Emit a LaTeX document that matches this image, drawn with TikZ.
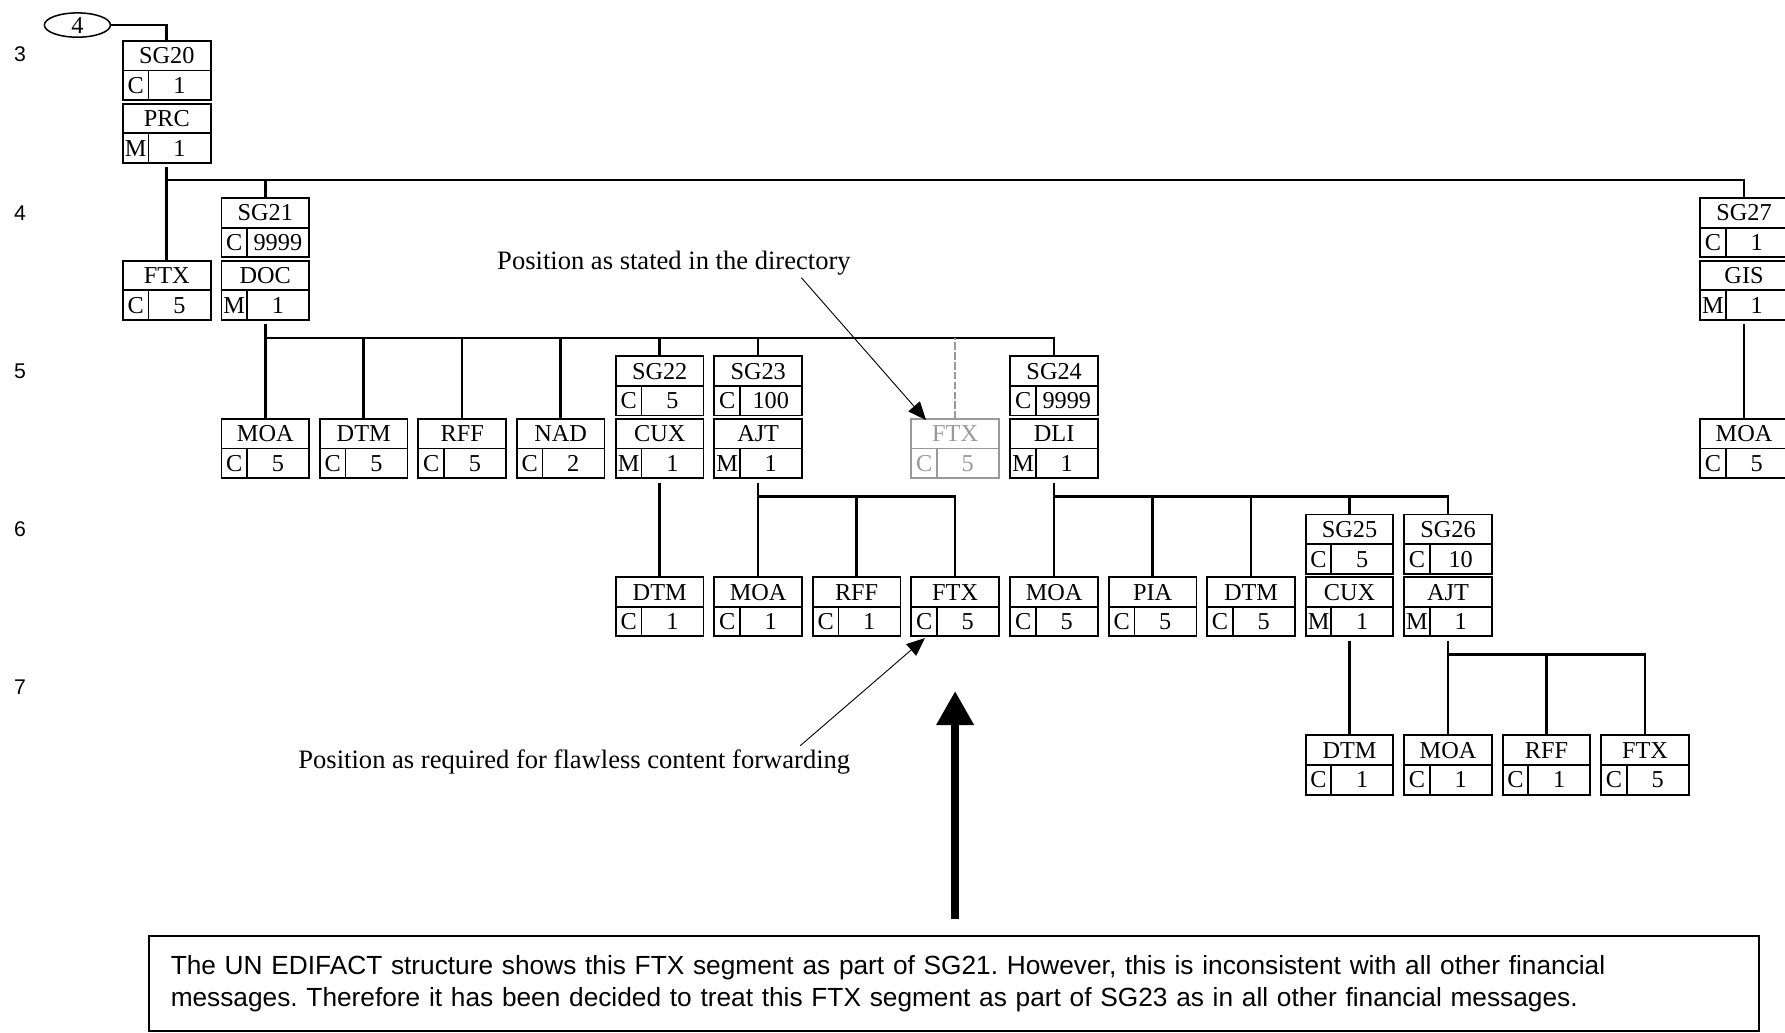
\documentclass[tikz,border=0pt]{standalone}
\usepackage{fontspec}
\setmainfont{Liberation Serif}
\setsansfont{Liberation Sans}
\usetikzlibrary{arrows.meta,calc,shapes.geometric}

\colorlet{ghost}{black!40}

\tikzset{every picture/.style={line width=0.75pt}}
\tikzset{
  segbox/.style={draw, line width=1.2pt, minimum width=57.75pt, minimum height=39pt, inner sep=0pt, outer sep=0pt},
  segtxt/.style={inner sep=0pt, text height=10.6pt, text depth=0pt, font=\fontsize{16}{16}\selectfont},
  bus/.style={line width=1.7pt},
  ghostbus/.style={line width=1.2pt, ghost, dash pattern=on 5pt off 1.5pt},
  lvl/.style={inner sep=0pt, font=\sffamily\fontsize{14}{14}\selectfont},
  note/.style={inner sep=0pt, anchor=base, font=\fontsize{17.5}{17.5}\selectfont},
  notearrow/.style={line width=0.6pt, -{Triangle[length=12pt,width=10pt]}},
  bigarrow/.style={line width=5.5pt, -{Triangle[length=22.5pt,width=23.5pt]}},
  remark/.style={draw, line width=1.3pt, inner xsep=14.25pt, minimum height=63pt, text width=1032pt, align=left, font=\sffamily\fontsize{17.3}{20.6}\selectfont},
  ptr/.style={draw, ellipse, line width=1pt, minimum width=43.5pt, minimum height=16pt, inner sep=0pt, font=\fontsize{16}{16}\selectfont}
}

% segment box: [style]{name}{centre x}{top y}{tag}{status}{repeat}
\newcommand{\segbox}[7][]{%
  \node[segbox,#1] (#2) at (#3,#4+26) {};
  \draw[line width=1.2pt,#1] (#2.west) -- (#2.east);
  \draw[line width=1.2pt,#1] ($(#2.south west)+(22.5,0)$) -- ($(#2.west)+(22.5,0)$);
  \node[segtxt,#1] at ($(#2.north)+(0,13)$) {#5};
  \node[segtxt,#1] at ($(#2.south west)+(11.25,-13)$) {#6};
  \node[segtxt,#1] at ($(#2.south east)+(-27.4,-13)$) {#7};
}

\begin{document}
\begin{tikzpicture}[x=0.75pt,y=0.75pt,yscale=-1,xscale=1]
\useasboundingbox (0,0) rectangle (1568,907);

% Level numbers
\node[lvl] (lvl3) at (17.6,48) {3};
\node[lvl] (lvl4) at (17.6,187) {4};
\node[lvl] (lvl5) at (17.6,326) {5};
\node[lvl] (lvl6) at (17.6,465) {6};
\node[lvl] (lvl7) at (17.6,604) {7};

% Bus heights
\coordinate (bus4) at (0,158);
\coordinate (bus5) at (0,297);
\coordinate (bus6) at (0,436);
\coordinate (bus7) at (0,575);

%Shape: Ellipse
\node[ptr] (ptr4) at (68,22) {4};

% Level 3
\segbox{sg20}{146.5}{36}{SG20}{C}{1}
\segbox{prc}{146.5}{91}{PRC}{M}{1}

% Level 4
\segbox{ftx4}{146.5}{229}{FTX}{C}{5}
\segbox{sg21}{233}{174}{SG21}{C}{9999}
\segbox{doc}{233}{229}{DOC}{M}{1}
\segbox{sg27}{1532}{174}{SG27}{C}{1}
\segbox{gis}{1532}{229}{GIS}{M}{1}

% Level 5
\segbox{moa5}{233}{368}{MOA}{C}{5}
\segbox{dtm5}{319.5}{368}{DTM}{C}{5}
\segbox{rff5}{406}{368}{RFF}{C}{5}
\segbox{nad5}{492.5}{368}{NAD}{C}{2}
\segbox{sg22}{579.5}{313}{SG22}{C}{5}
\segbox{cux22}{579.5}{368}{CUX}{M}{1}
\segbox{sg23}{666}{313}{SG23}{C}{100}
\segbox{ajt23}{666}{368}{AJT}{M}{1}
\segbox[ghost]{ftxdir}{839}{368}{FTX}{C}{5}
\segbox{sg24}{926}{313}{SG24}{C}{9999}
\segbox{dli}{926}{368}{DLI}{M}{1}
\segbox{moa27}{1532}{368}{MOA}{C}{5}

% Level 6
\segbox{dtm22}{579.5}{507}{DTM}{C}{1}
\segbox{moa23}{666}{507}{MOA}{C}{1}
\segbox{rff23}{752.5}{507}{RFF}{C}{1}
\segbox{ftx23}{839}{507}{FTX}{C}{5}
\segbox{moa24}{926}{507}{MOA}{C}{5}
\segbox{pia24}{1012.5}{507}{PIA}{C}{5}
\segbox{dtm24}{1099}{507}{DTM}{C}{5}
\segbox{sg25}{1185.5}{452}{SG25}{C}{5}
\segbox{cux25}{1185.5}{507}{CUX}{M}{1}
\segbox{sg26}{1272}{452}{SG26}{C}{10}
\segbox{ajt26}{1272}{507}{AJT}{M}{1}

% Level 7
\segbox{dtm25}{1185.5}{646}{DTM}{C}{1}
\segbox{moa26}{1272}{646}{MOA}{C}{1}
\segbox{rff26}{1358.5}{646}{RFF}{C}{1}
\segbox{ftx26}{1445}{646}{FTX}{C}{5}

%Straight Lines: tree links
\draw[bus] (ptr4.east) -| (sg20.north);
\draw[bus] ($(prc.south)+(0,4)$) -- (ftx4.north);
\draw[bus] (ftx4.north |- bus4) -| (sg27.north);
\draw[bus] (sg21.north) -- (sg21.north |- bus4);

\draw[bus] ($(doc.south)+(0,4)$) -- (moa5.north);
\draw[bus] (moa5.north |- bus5) -| (sg24.north);
\draw[bus] (dtm5.north) -- (dtm5.north |- bus5);
\draw[bus] (rff5.north) -- (rff5.north |- bus5);
\draw[bus] (nad5.north) -- (nad5.north |- bus5);
\draw[bus] (sg22.north) -- (sg22.north |- bus5);
\draw[bus] (sg23.north) -- (sg23.north |- bus5);
\draw[ghostbus] (ftxdir.north) -- (ftxdir.north |- bus5);
\draw[bus] ($(gis.south)+(0,4)$) -- (moa27.north);

\draw[bus] ($(cux22.south)+(0,4)$) -- (dtm22.north);
\draw[bus] ($(ajt23.south)+(0,4)$) -- (moa23.north);
\draw[bus] (moa23.north |- bus6) -| (ftx23.north);
\draw[bus] (rff23.north) -- (rff23.north |- bus6);
\draw[bus] ($(dli.south)+(0,4)$) -- (moa24.north);
\draw[bus] (moa24.north |- bus6) -| (sg26.north);
\draw[bus] (pia24.north) -- (pia24.north |- bus6);
\draw[bus] (dtm24.north) -- (dtm24.north |- bus6);
\draw[bus] (sg25.north) -- (sg25.north |- bus6);

\draw[bus] ($(cux25.south)+(0,4)$) -- (dtm25.north);
\draw[bus] ($(ajt26.south)+(0,4)$) -- (moa26.north);
\draw[bus] (moa26.north |- bus7) -| (ftx26.north);
\draw[bus] (rff26.north) -- (rff26.north |- bus7);

% Text Node
\node[note] (note1) at (592,237) {Position as stated in the directory};
\coordinate (from1) at (704,244);
\draw[notearrow] (from1) -- ($(ftxdir.north west)+(13,1)$);

% Text Node
\node[note] (note2) at (504.5,675) {Position as required for flawless content forwarding};
\coordinate (from2) at (703,655);
\draw[notearrow] (from2) -- ($(ftx23.south west)+(12,1.5)$);

% Remark box
\node[remark] (remark) at (838,864) {\frenchspacing The UN EDIFACT structure shows this FTX segment as part of SG21. However, this is inconsistent with all other financial\\
messages. Therefore it has been decided to treat this FTX segment as part of SG23 as in all other financial messages.};

%Straight Lines: big arrow
\coordinate (tip) at (839,607);
\draw[bigarrow] (tip |- remark.north) ++(0,-13.5) -- (tip);

\end{tikzpicture}
\end{document}
